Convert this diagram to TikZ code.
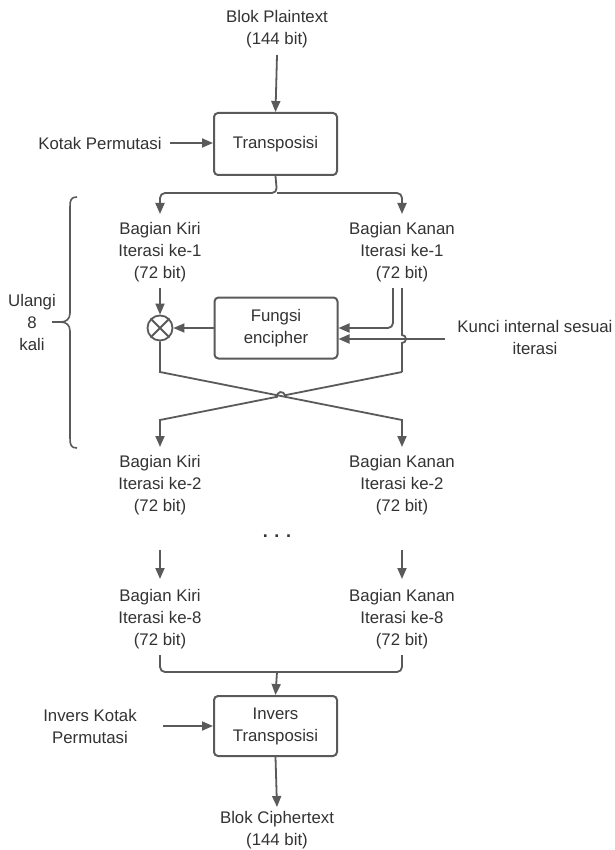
\documentclass[tikz,border=0pt]{standalone}
\usepackage{fontspec}
\setmainfont{Liberation Sans}
\usetikzlibrary{arrows.meta,calc}
\definecolor{lc}{HTML}{5A5A5A}
\definecolor{tc}{HTML}{333333}
\begin{document}
\begin{tikzpicture}[x=1pt,y={(0pt,-1pt)},
  lbl/.style={align=center,text=tc,inner sep=0pt,font=\fontsize{16.8}{22}\selectfont},
  box/.style={draw=lc,line width=2pt,rounded corners=4pt,minimum width=123pt,text=tc,align=center,inner sep=0pt,font=\fontsize{16.8}{22}\selectfont},
  ln/.style={draw=lc,line width=1.8pt},
  arr/.style={ln,-{Triangle[length=11pt,width=9pt]}}]
\useasboundingbox[fill=white] (0,0) rectangle (614,850);

% top
\node[lbl] (pt) at (277,29) {Blok Plaintext\\(144 bit)};
\node[box,minimum height=62pt] (tr) at (275.5,144) {Transposisi};
\node[lbl] (kp) at (100,143) {Kotak Permutasi};
\coordinate (ptb) at (277,55);
\draw[arr] (ptb) -- (tr.north);
\coordinate (kpe) at (170,143);
\draw[arr] (kpe) -- (kpe -| tr.west);

% split
\coordinate (j1) at (277,193);
\coordinate (s1) at (160,214);
\coordinate (s2) at (402,214);
\draw[arr,rounded corners=5pt] (tr.south) -- (j1) -| (s1);
\draw[arr,rounded corners=5pt] (j1) -| (s2);

% iteration 1
\node[lbl] (l1) at (160,252) {Bagian Kiri\\Iterasi ke-1\\(72 bit)};
\node[lbl] (r1) at (402,252) {Bagian Kanan\\Iterasi ke-1\\(72 bit)};

\node[draw=lc,line width=1.8pt,circle,minimum size=25pt,inner sep=0pt] (xor) at (160,328) {};
\draw[lc,line width=1.8pt] (xor.north west) -- (xor.south east) (xor.north east) -- (xor.south west);
\coordinate (l1b) at (160,288);
\draw[arr] (l1b) -- (xor.north);

\node[box,minimum height=61pt] (fe) at (276,328) {Fungsi\\encipher};
\draw[arr] (fe.west) -- (xor.east);

\coordinate (r1a) at (393,288);
\coordinate (r1b) at (402,288);
\coordinate (fein1) at (fe.east |- 0,328);
\coordinate (fein2) at (fe.east |- 0,339);
\draw[arr,rounded corners=5pt] (r1a) |- (fein1);

\node[lbl] (key) at (535,337) {Kunci internal sesuai\\iterasi};
\coordinate (keyw) at (445,339);
\draw[arr] (keyw) -- (fein2);

% cross
\coordinate (xl) at (160,372);
\coordinate (xr) at (402,372);
\coordinate (bl) at (160,420);
\coordinate (br) at (402,420);
\coordinate (el) at (160,447);
\coordinate (er) at (402,447);
\coordinate (cx) at (281,396);
\draw[ln] (r1b) -- (402,335) arc[start angle=90,end angle=-90,radius=4pt] -- (xr);
\draw[arr] (xr) -- ($(cx)!4pt!(xr)$) arc[start angle=11.2,end angle=191.2,radius=4pt] -- (bl) -- (el);
\draw[arr] (xor.south) -- (xl) -- (br) -- (er);

% brace
\draw[ln,line width=1.6pt] (77,197) .. controls (71,197) and (70,200) .. (70,207) -- (70,313)
  .. controls (70,319) and (66,322) .. (61,322)
  .. controls (66,322) and (70,325) .. (70,331) -- (70,438)
  .. controls (70,445) and (71,448) .. (77,448);
\draw[ln,line width=1.6pt] (52,322) -- (61,322);
\node[lbl] (ul) at (32,322) {Ulangi\\8\\kali};

% iteration 2
\node[lbl] (l2) at (160,485) {Bagian Kiri\\Iterasi ke-2\\(72 bit)};
\node[lbl] (r2) at (402,485) {Bagian Kanan\\Iterasi ke-2\\(72 bit)};
\node[lbl,font=\bfseries\fontsize{18}{22}\selectfont] (dots) at (277,536) {. . .};

\coordinate (a1) at (160,550);
\coordinate (a2) at (402,550);
\coordinate (a3) at (160,579);
\coordinate (a4) at (402,579);
\draw[arr] (a1) -- (a3);
\draw[arr] (a2) -- (a4);

% iteration 8
\node[lbl] (l8) at (160,619) {Bagian Kiri\\Iterasi ke-8\\(72 bit)};
\node[lbl] (r8) at (402,619) {Bagian Kanan\\Iterasi ke-8\\(72 bit)};
\coordinate (m1) at (160,655);
\coordinate (m2) at (402,655);
\coordinate (j2) at (277,672);
\draw[ln,rounded corners=5pt] (m1) |- (j2) -| (m2);

\node[box,minimum height=60pt] (inv) at (275.5,726) {Invers\\Transposisi};
\draw[arr] (j2) -- (inv.north);
\node[lbl] (ikp) at (90,726) {Invers Kotak\\Permutasi};
\coordinate (ikpe) at (163,726);
\draw[arr] (ikpe) -- (inv.west);

\node[lbl] (ct) at (277,830) {Blok Ciphertext\\(144 bit)};
\coordinate (ctt) at (277,807);
\draw[arr] (inv.south) -- (ctt);
\end{tikzpicture}
\end{document}
